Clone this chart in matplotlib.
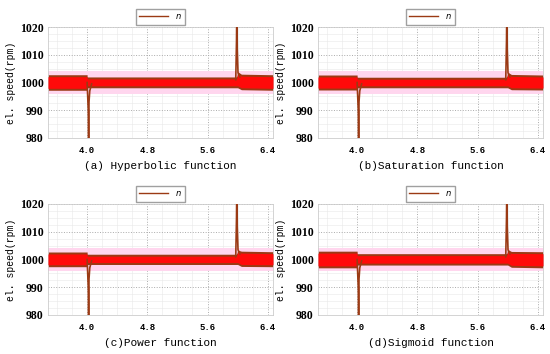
import matplotlib
matplotlib.use("Agg")
import matplotlib.pyplot as plt
from matplotlib.ticker import MultipleLocator

# panel captions
captions = ["(a) Hyperbolic function", "(b)Saturation function",
            "(c)Power function", "(d)Sigmoid function"]

# envelope of the speed ripple (rpm): time breakpoints and upper/lower bounds
env_t = [3.48, 4.0, 4.0, 4.03, 5.98, 5.99, 6.0, 6.05, 6.47]
env_hi = [
    [1002.4, 1002.4, 1001.6, 1001.6, 1001.6, 1001.8, 1003.5, 1002.6, 1002.4],
    [1002.3, 1002.3, 1001.5, 1001.5, 1001.5, 1001.8, 1003.3, 1002.5, 1002.3],
    [1002.3, 1002.3, 1001.5, 1001.5, 1001.5, 1001.8, 1003.0, 1002.6, 1002.4],
    [1002.6, 1002.6, 1001.7, 1001.7, 1001.7, 1001.8, 1003.2, 1002.5, 1002.4],
]
env_lo = [
    [997.6, 997.6, 998.5, 998.5, 998.5, 998.5, 998.5, 997.8, 997.6],
    [997.7, 997.7, 998.5, 998.5, 998.5, 998.5, 998.5, 997.8, 997.7],
    [997.8, 997.8, 998.6, 998.6, 998.6, 998.6, 998.6, 997.9, 997.8],
    [997.4, 997.4, 998.4, 998.4, 998.4, 998.4, 998.4, 997.6, 997.4],
]

# load step transient (dip) and load removal transient (spike)
dip_t = [4.0, 4.015, 4.02, 4.025, 4.035, 4.06]
dip_n = [1000.0, 990.0, 975.0, 993.0, 997.0, 999.5]
spike_t = [5.975, 5.985, 5.99, 5.995, 6.005, 6.03]
spike_n = [1001.0, 1015.0, 1030.0, 1012.0, 1003.5, 1002.0]

plt.rcParams["font.family"] = ["Liberation Serif", "DejaVu Serif"]

fig = plt.figure(figsize=(5.5, 3.54), dpi=100)
W, H = 550.0, 354.0
# axes boxes in pixels: left, top, right, bottom
boxes = [(48, 27, 273, 138), (318, 27, 543, 138),
         (48, 204, 273, 315), (318, 204, 543, 315)]

red = "#ff0a0a"
brown = "#9b3a14"

for i, (l, t, r, b) in enumerate(boxes):
    ax = fig.add_axes([l / W, 1 - b / H, (r - l) / W, (b - t) / H])
    ax.set_xlim(3.48, 6.47)
    ax.set_ylim(980, 1020)

    ax.axhspan(996.0, 1004.0, color="#ffd6ee", lw=0, zorder=1)
    ax.fill_between(env_t, [v + 0.4 for v in env_hi[i]],
                    [v - 0.4 for v in env_lo[i]], color=brown, lw=0, zorder=2)
    ax.fill_between(env_t, [v - 0.3 for v in env_hi[i]],
                    [v + 0.3 for v in env_lo[i]], color=red, lw=0, zorder=3)
    ax.plot(dip_t, dip_n, color=brown, lw=1.2, zorder=4)
    ax.plot(spike_t, spike_n, color=brown, lw=1.2, zorder=4)
    line, = ax.plot([], [], color=brown, lw=1.0)

    ax.xaxis.set_minor_locator(MultipleLocator(0.2))
    ax.yaxis.set_minor_locator(MultipleLocator(2.5))
    ax.set_xticks([4.0, 4.8, 5.6, 6.4])
    ax.set_xticklabels(["4.0", "4.8", "5.6", "6.4"], family="Liberation Mono",
                       fontweight="bold", fontsize=6.5)
    ax.set_yticks([980, 990, 1000, 1010, 1020])
    ax.set_yticklabels(["980", "990", "1000", "1010", "1020"],
                       fontweight="bold", fontsize=8.5)
    ax.grid(which="major", color="#aaaaaa", ls=":", lw=0.7, zorder=0)
    ax.grid(which="minor", color="#e8e8e8", ls="-", lw=0.4, zorder=0)
    ax.tick_params(which="both", length=0)
    ax.tick_params(axis="x", pad=6)
    ax.tick_params(axis="y", pad=3)
    for s in ax.spines.values():
        s.set_color("#cccccc")
        s.set_linewidth(0.6)
    ax.set_axisbelow(True)

    ax.set_ylabel("el. speed(rpm)", family="Liberation Mono", fontsize=7,
                  labelpad=3)
    ax.set_xlabel(captions[i], family="Liberation Mono", fontsize=8,
                  labelpad=4)

    ax.legend([line], ["$n$"], loc="lower center", bbox_to_anchor=(0.5, 1.0),
              fontsize=6, handlelength=3.5, frameon=True, fancybox=False,
              edgecolor="#888888", borderpad=0.4, borderaxespad=0.3)

fig.savefig("out.png", dpi=100)
